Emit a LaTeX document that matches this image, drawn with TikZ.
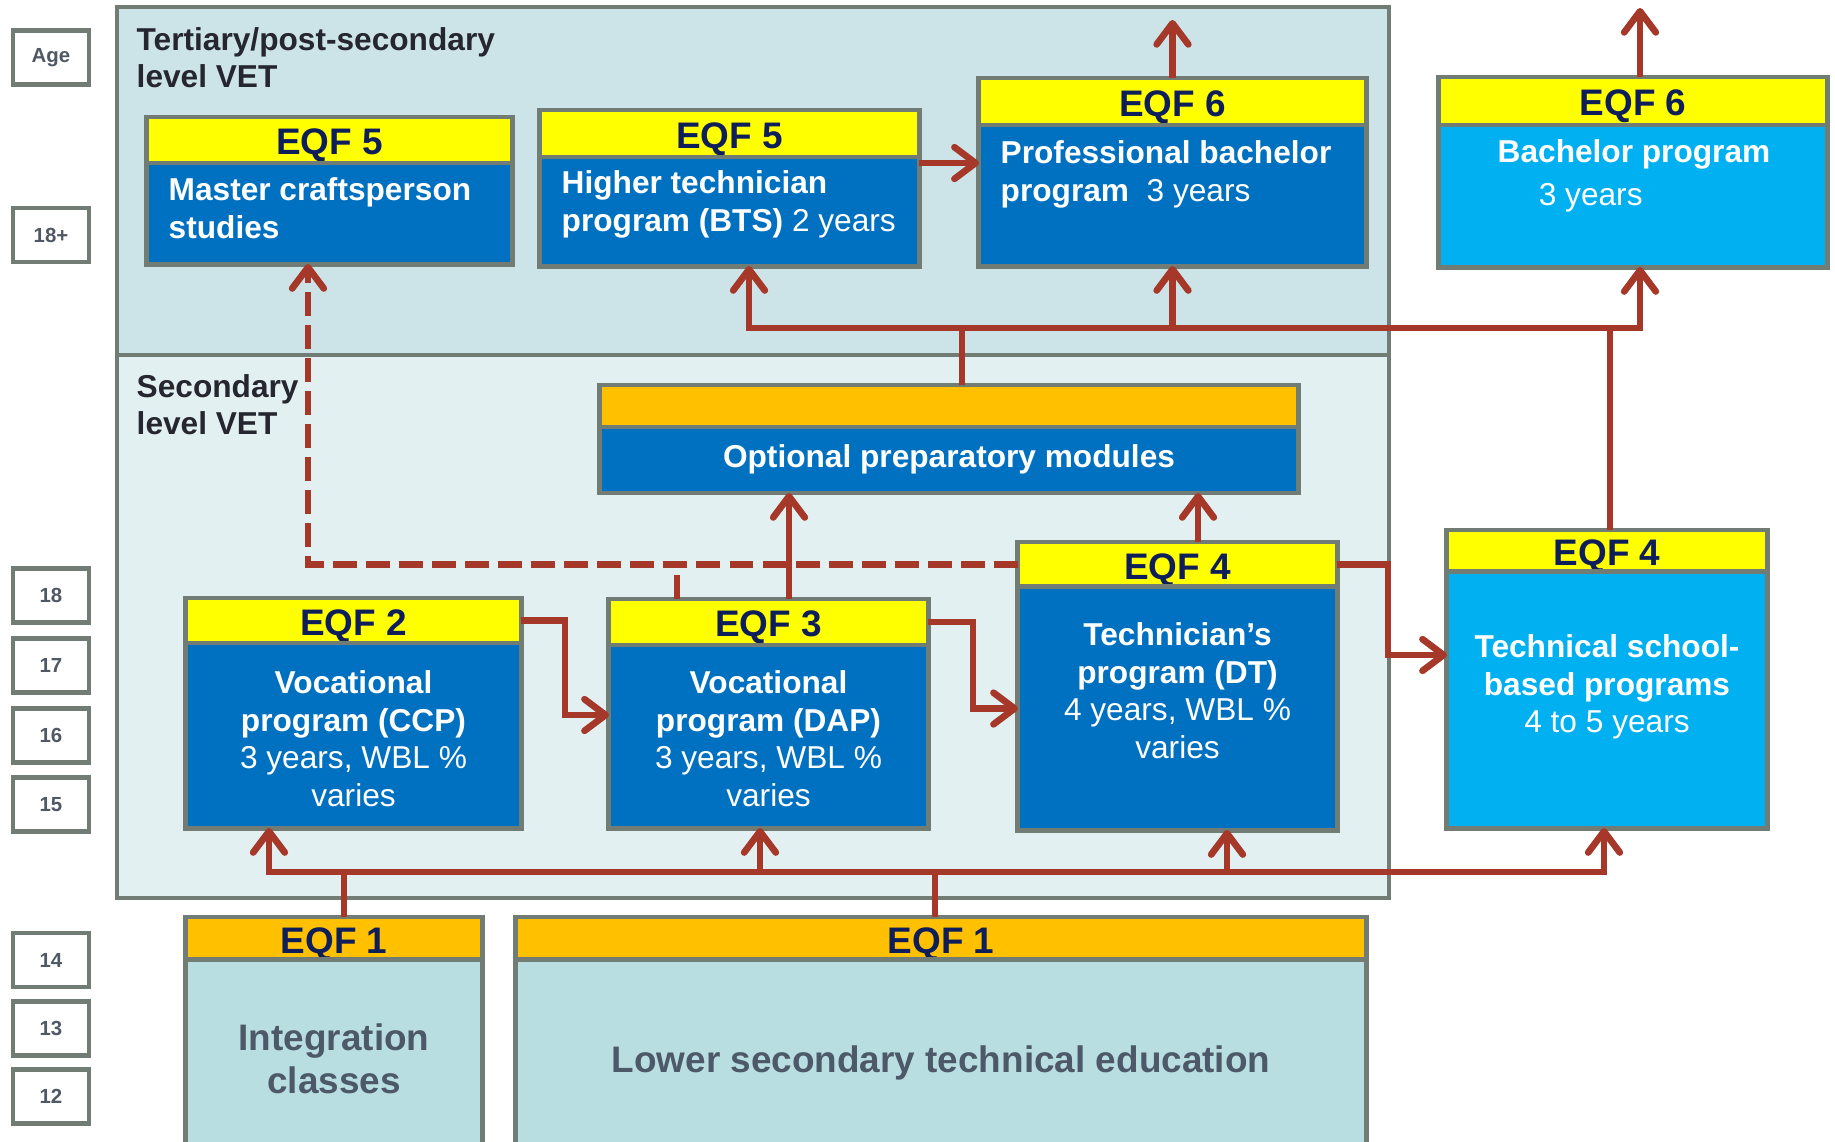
\documentclass[tikz,border=0pt]{standalone}
\usepackage{fontspec}
\setmainfont{Liberation Sans}
\usepackage{tikz}
\usetikzlibrary{arrows.meta,calc}
\definecolor{frame}{RGB}{112,124,116}
\definecolor{tertfill}{RGB}{204,228,231}
\definecolor{secfill}{RGB}{226,240,241}
\definecolor{eqfyellow}{RGB}{255,255,0}
\definecolor{eqforange}{RGB}{255,192,0}
\definecolor{progblue}{RGB}{0,112,192}
\definecolor{lightprog}{RGB}{0,176,240}
\definecolor{lowfill}{RGB}{185,222,226}
\definecolor{arrowred}{RGB}{165,56,40}
\definecolor{navy}{RGB}{14,30,90}
\definecolor{titletext}{RGB}{38,38,48}
\definecolor{lowtext}{RGB}{77,89,104}
\definecolor{agetext}{RGB}{80,88,100}
\tikzset{
  hdr/.style={draw=frame,line width=1.4pt,inner sep=0pt,outer sep=0pt,text=navy,text height=8.5pt,text depth=0pt,font=\fontsize{10.5}{12}\selectfont\bfseries},
  body/.style={draw=frame,line width=1.4pt,inner sep=0pt,outer sep=0pt},
  txt/.style={inner sep=0pt,align=center,text=white,font=\fontsize{9}{10.7}\selectfont\bfseries},
  lowtx/.style={inner sep=0pt,align=center,text=lowtext,font=\fontsize{10.5}{12.2}\selectfont\bfseries},
  title/.style={inner sep=0pt,anchor=north west,align=left,text=titletext,font=\fontsize{9}{10.5}\selectfont\bfseries},
  agebox/.style={draw=frame,fill=white,line width=1.3pt,inner sep=0pt,minimum width=0.76cm,minimum height=0.54cm,text=agetext,font=\fontsize{5.8}{7}\selectfont\bfseries},
  link/.style={draw=arrowred,line width=1.9pt},
  flow/.style={link,-{Straight Barb[length=6pt,width=9pt,round]}},
  dashflow/.style={flow,dash pattern=on 6.8pt off 2.6pt}
}
\begin{document}
\begin{tikzpicture}[x=0.01cm,y=-0.01cm]
  \useasboundingbox (0,0) rectangle (1835,1141);
  \clip (0,0) rectangle (1835,1141);
  \filldraw[fill=tertfill,draw=frame,line width=1.4pt] (117,7) rectangle (1389,355);
  \filldraw[fill=secfill,draw=frame,line width=1.4pt] (117,355) rectangle (1389,898);
  \node[title] (tert) at (136,27) {Tertiary/post-secondary\\level VET};
  \node[title] (sec) at (136,374) {Secondary\\level VET};

  \foreach \a/\t/\b [count=\i] in {Age/30/85,18+/207/263,18/568/623,17/638/693,16/708/763,
      15/777/832,14/932/988,13/1000/1057,12/1068/1125}
    \node[agebox] (age\i) at (51,{(\t+\b)/2}) {\a};

  \foreach \n/\l/\r/\t/\m/\b/\lab/\hc/\bc in {
      m5/147/512/117/163/264/{EQF 5}/eqfyellow/progblue,
      h5/540/919/110/157/266/{EQF 5}/eqfyellow/progblue,
      p6/979/1366/78/125/266/{EQF 6}/eqfyellow/progblue,
      b6/1439/1827/77/125/267/{EQF 6}/eqfyellow/lightprog,
      opt/600/1298/385/427/493/{}/eqforange/progblue,
      v2/186/521/598/643/828/{EQF 2}/eqfyellow/progblue,
      v3/609/928/599/645/828/{EQF 3}/eqfyellow/progblue,
      t4/1018/1337/542/587/830/{EQF 4}/eqfyellow/progblue,
      s4/1447/1767/530/572/828/{EQF 4}/eqfyellow/lightprog,
      i1/186/482/917/960/1160/{EQF 1}/eqforange/lowfill,
      l1/516/1366/917/960/1160/{EQF 1}/eqforange/lowfill}{
    \node[hdr,fill=\hc,minimum width={0.284528*(\r-\l)},minimum height={0.284528*(\m-\t)}]
      (\n-hd) at ({(\l+\r)/2},{(\t+\m)/2}) {\lab};
    \node[body,fill=\bc,minimum width={0.284528*(\r-\l)},minimum height={0.284528*(\b-\m)}]
      (\n) at ({(\l+\r)/2},{(\m+\b)/2}) {};
  }

  \node[txt,anchor=north west,align=left] (m5-tx) at (168,177) {Master craftsperson\\studies};
  \node[txt,anchor=north west,align=left] (h5-tx) at (561,170) {Higher technician\\program (BTS) {\mdseries 2 years}};
  \node[txt,anchor=north west,align=left] (p6-tx) at (1000,140) {Professional bachelor\\program\ \ {\mdseries 3 years}};
  \node[txt,anchor=north west,align=left] (b6-tx) at (1497,139) {Bachelor program\\[1.5pt]\hspace*{1.3em}{\mdseries 3 years}};
  \node[txt,anchor=north] (opt-tx) at (949,444) {Optional preparatory modules};
  \node[txt,anchor=north] (v2-tx) at (353.5,670) {Vocational\\program (CCP)\\{\mdseries 3 years, WBL \%}\\{\mdseries varies}};
  \node[txt,anchor=north] (v3-tx) at (768.5,670) {Vocational\\program (DAP)\\{\mdseries 3 years, WBL \%}\\{\mdseries varies}};
  \node[txt,anchor=north] (t4-tx) at (1177.5,622) {Technician’s\\program (DT)\\{\mdseries 4 years, WBL \%}\\{\mdseries varies}};
  \node[txt,anchor=north] (s4-tx) at (1607,634) {Technical school-\\based programs\\{\mdseries 4 to 5 years}};
  \node[lowtx,anchor=north] (i1-tx) at (334,1023) {Integration\\classes};
  \node[lowtx,anchor=north] (l1-tx) at (941,1045) {Lower secondary technical education};

  \path ([xshift=-0.215cm]m5.south) coordinate (m5in);
  \draw[dashflow] (t4-hd.west) -| (m5in);
  \path ([xshift=-0.915cm]v3-hd.north) coordinate (v3dash);
  \draw[link,dash pattern=on 6.8pt off 2.6pt] (v3dash) -- (v3dash |- t4-hd.west);

  \path ([xshift=0.205cm]v3-hd.north) coordinate (v3up);
  \draw[flow] (v3up) -- (v3up |- opt.south);
  \path ([xshift=0.205cm]t4-hd.north) coordinate (t4up);
  \draw[flow] (t4up) -- (t4up |- opt.south);

  \draw[flow] (v2-hd.east) -- ++(44,0) |- ([yshift=0.215cm]v3.west);
  \draw[flow] (v3-hd.east) -- ++(45,0) |- (t4.west);
  \draw[flow] (t4-hd.east) -- ++(51,0) |- ([yshift=0.45cm]s4.west);

  \path ([xshift=0.13cm]opt-hd.north) coordinate (optup);
  \path ([yshift=0.57cm]optup) coordinate (busT);
  \draw[link] (optup) -- (busT);
  \draw[flow] (busT) -| ([xshift=0.195cm]h5.south);
  \draw[flow] (busT) -| (p6.south);
  \draw[flow] (busT) -| ([xshift=0.07cm]b6.south);
  \draw[link] ([xshift=0.03cm]s4-hd.north) |- (busT);

  \path ([yshift=-0.06cm]h5-hd.south east) coordinate (h5r);
  \draw[flow] (h5r) -- (h5r -| p6.west);
  \path ([yshift=0.58cm]p6-hd.north) coordinate (p6out);
  \draw[flow] (p6-hd.north) -- (p6out);
  \path ([xshift=0.07cm]b6-hd.north) coordinate (b6top);
  \path ([yshift=0.69cm]b6top) coordinate (b6out);
  \draw[flow] (b6top) -- (b6out);

  \path ([xshift=0.1cm]i1-hd.north) coordinate (i1up);
  \path ([yshift=0.45cm]i1up) coordinate (busB);
  \draw[link] (i1up) -- (busB);
  \draw[link] ([xshift=-0.06cm]l1-hd.north) |- (busB);
  \draw[flow] (busB) -| ([xshift=-0.845cm]v2.south);
  \draw[flow] (busB) -| ([xshift=-0.085cm]v3.south);
  \draw[flow] (busB) -| ([xshift=0.495cm]t4.south);
  \draw[flow] (busB) -| ([xshift=-0.03cm]s4.south);
\end{tikzpicture}
\end{document}
